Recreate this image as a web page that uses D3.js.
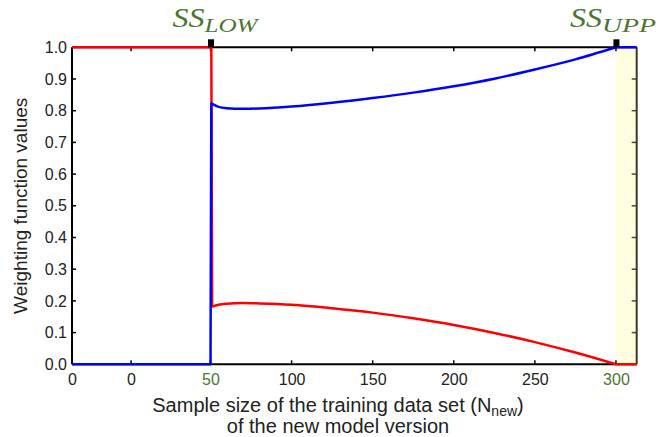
<!DOCTYPE html>
<html>
<head>
<meta charset="utf-8">
<script src="https://cdn.jsdelivr.net/npm/d3@7"></script>
<style>
  body { margin: 0; background: #fff; }
  svg { display: block; font-family: "Liberation Sans", Arial, sans-serif; }
</style>
</head>
<body>
<svg id="chart" width="659" height="437"></svg>
<script>
// x axis: the left edge is labelled "0" as well (broken axis in the original)
const xDomain = [-35.4, 312.8];
const xTickValues = [-35.4, 1, 50, 100, 150, 200, 250, 300];
const xTickLabels = ['0', '0', '50', '100', '150', '200', '250', '300'];
const xGreenTicks = [50, 300];
const yTickValues = [0, 0.1, 0.2, 0.3, 0.4, 0.5, 0.6, 0.7, 0.8, 0.9, 1.0];

// weighting function of the old version (red)
const redX = [-35.4, 50.5, 51, 55, 60, 70, 80, 100, 125, 150, 175, 200, 225, 250, 275, 300, 312.8];
const redY = [1, 1, 0.182, 0.188, 0.191, 0.193, 0.192, 0.188, 0.177, 0.163, 0.145, 0.124, 0.099, 0.070, 0.037, 0, 0];

// weighting function of the new version (blue)
const blueX = [-35.4, 50, 50.5, 55, 60, 70, 80, 100, 125, 150, 175, 200, 225, 250, 275, 300, 312.8];
const blueY = [0, 0, 0.823, 0.812, 0.808, 0.806, 0.807, 0.813, 0.825, 0.840, 0.857, 0.877, 0.901, 0.930, 0.962, 1, 1];

const ssMarks = [
  { x: 50, sub: 'LOW' },
  { x: 300, sub: 'UPP' }
];

const margin = { top: 47.3, right: 22.3, bottom: 72.7, left: 72 };
const width = 659, height = 437;
const green = '#4b7531';

const svg = d3.select('#chart');
const x = d3.scaleLinear().domain(xDomain).range([margin.left, width - margin.right]);
const y = d3.scaleLinear().domain([0, 1]).range([height - margin.bottom, margin.top]);

const x0 = x.range()[0], x1 = x.range()[1];
const yTop = y(1), yBot = y(0);

// shaded region beyond SS_UPP
svg.append('rect')
  .attr('x', x(300)).attr('y', yTop)
  .attr('width', x1 - x(300)).attr('height', yBot - yTop)
  .style('fill', '#fffde0');

// bottom axis
const xAxisB = d3.axisBottom(x)
  .tickValues(xTickValues)
  .tickSize(0)
  .tickPadding(9)
  .tickFormat((d, i) => xTickLabels[i]);
const gxb = svg.append('g')
  .attr('transform', `translate(0,${yBot})`)
  .call(xAxisB);
gxb.select('.domain').remove();
gxb.selectAll('text')
  .style('font-size', '16px')
  .style('fill', d => xGreenTicks.includes(d) ? green : '#222');

// inner ticks on bottom and top
const innerX = xTickValues.slice(1);
svg.append('g').selectAll('line')
  .data(innerX)
  .join('line')
  .attr('x1', d => x(d)).attr('x2', d => x(d))
  .attr('y1', yBot).attr('y2', yBot - 4)
  .style('stroke', '#000').style('stroke-width', 1.5);
svg.append('g').selectAll('line')
  .data(innerX)
  .join('line')
  .attr('x1', d => x(d)).attr('x2', d => x(d))
  .attr('y1', yTop).attr('y2', yTop + 4)
  .style('stroke', '#000').style('stroke-width', 1.5);

// left axis
const yAxisL = d3.axisLeft(y)
  .tickValues(yTickValues)
  .tickSize(0)
  .tickPadding(5)
  .tickFormat(d3.format('.1f'));
const gyl = svg.append('g')
  .attr('transform', `translate(${x0},0)`)
  .call(yAxisL);
gyl.select('.domain').remove();
gyl.selectAll('text').style('font-size', '16px').style('fill', '#222');

svg.append('g').selectAll('line')
  .data(yTickValues.slice(1, -1))
  .join('line')
  .attr('x1', x0).attr('x2', x0 + 4)
  .attr('y1', d => y(d)).attr('y2', d => y(d))
  .style('stroke', '#000').style('stroke-width', 1.5);
svg.append('g').selectAll('line')
  .data(yTickValues.slice(1, -1))
  .join('line')
  .attr('x1', x1).attr('x2', x1 - 5)
  .attr('y1', d => y(d)).attr('y2', d => y(d))
  .style('stroke', '#4a4a38').style('stroke-width', 1.5);

// frame
svg.append('line').attr('x1', x0).attr('x2', x1).attr('y1', yTop).attr('y2', yTop)
  .style('stroke', '#000').style('stroke-width', 2);
svg.append('line').attr('x1', x0).attr('x2', x1).attr('y1', yBot).attr('y2', yBot)
  .style('stroke', '#000').style('stroke-width', 2);
svg.append('line').attr('x1', x0).attr('x2', x0).attr('y1', yTop).attr('y2', yBot)
  .style('stroke', '#000').style('stroke-width', 2);
svg.append('line').attr('x1', x1).attr('x2', x1).attr('y1', yTop).attr('y2', yBot)
  .style('stroke', '#3a3a2a').style('stroke-width', 2);

// curves: straight step and tail, smooth part in between (index 2..15)
const lineStraight = d3.line().x(d => x(d[0])).y(d => y(d[1]));
const lineSmooth = d3.line().x(d => x(d[0])).y(d => y(d[1])).curve(d3.curveMonotoneX);

function drawSeries(xs, ys, color) {
  const pts = d3.zip(xs, ys);
  const d = lineStraight(pts.slice(0, 3)) +
    lineSmooth(pts.slice(2, 16)).replace(/^M/, 'L') +
    lineStraight(pts.slice(15)).replace(/^M/, 'L');
  svg.append('path')
    .attr('d', d)
    .style('fill', 'none')
    .style('stroke', color)
    .style('stroke-width', 2.5)
    .style('stroke-linejoin', 'round');
}
drawSeries(redX, redY, '#ff0000');
drawSeries(blueX, blueY, '#0000ff');

// SS markers on top
svg.append('g').selectAll('rect')
  .data(ssMarks)
  .join('rect')
  .attr('x', d => x(d.x) - 2.5)
  .attr('y', yTop - 8)
  .attr('width', 6).attr('height', 8)
  .style('fill', '#000');

const ssG = svg.append('g').selectAll('g')
  .data(ssMarks)
  .join('g')
  .attr('transform', (d, i) => `translate(${x(d.x) + (i === 0 ? -38 : -46)},0)`);
ssG.append('text')
  .attr('x', 0).attr('y', 26.5)
  .attr('textLength', 32).attr('lengthAdjust', 'spacingAndGlyphs')
  .style('font-family', '"Liberation Serif", "DejaVu Serif", serif')
  .style('font-style', 'italic')
  .style('font-size', '28px')
  .style('fill', green)
  .text('SS');
ssG.append('text')
  .attr('x', 32).attr('y', 31.5)
  .attr('textLength', d => d.sub === 'LOW' ? 53 : 54)
  .attr('lengthAdjust', 'spacingAndGlyphs')
  .style('font-family', '"Liberation Serif", "DejaVu Serif", serif')
  .style('font-style', 'italic')
  .style('font-size', '19px')
  .style('fill', green)
  .text(d => d.sub);

// axis titles
const xt = svg.append('text')
  .attr('x', 338).attr('y', 412)
  .attr('text-anchor', 'middle')
  .style('font-size', '20px').style('fill', '#222');
xt.append('tspan').text('Sample size of the training data set (N');
xt.append('tspan').attr('dy', 4).style('font-size', '14px').text('new');
xt.append('tspan').attr('dy', -4).text(')');

svg.append('text')
  .attr('x', 338).attr('y', 433)
  .attr('text-anchor', 'middle')
  .style('font-size', '20px').style('fill', '#222')
  .text('of the new model version');

svg.append('text')
  .attr('transform', `translate(27,${(yTop + yBot) / 2}) rotate(-90)`)
  .attr('text-anchor', 'middle')
  .style('font-size', '19px').style('fill', '#222')
  .text('Weighting function values');
</script>
</body>
</html>
